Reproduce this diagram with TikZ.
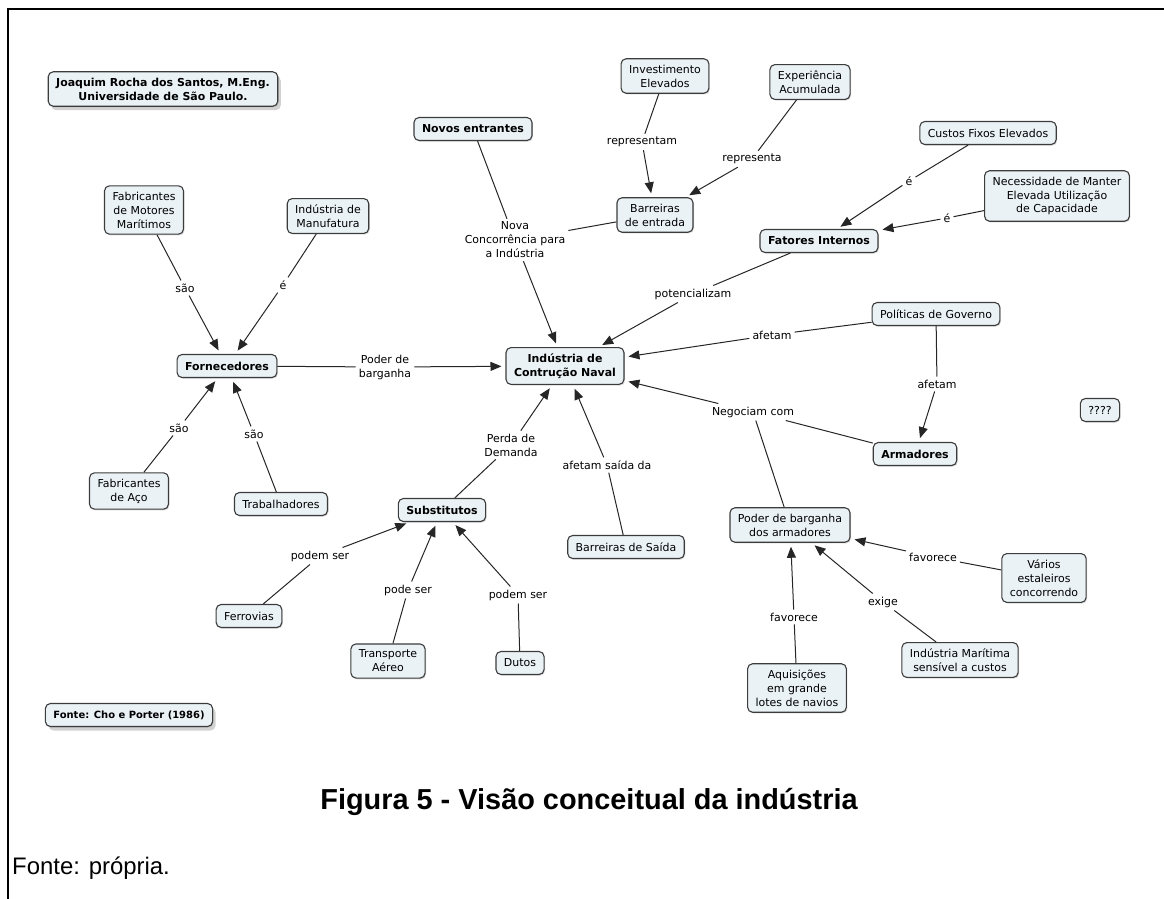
\documentclass[tikz,border=0pt]{standalone}
\usepackage{fontspec}
\usepackage{tikz}
\usetikzlibrary{arrows.meta,shadows}
\newfontfamily\mapfont{DejaVu Sans}
\newfontfamily\capfont{Liberation Sans}
\definecolor{cfill}{RGB}{234,242,246}
\definecolor{cline}{RGB}{60,60,60}
\tikzstyle{concept}=[draw=cline,fill=cfill,line width=1.1bp,rounded corners=5bp,align=center,
  inner xsep=8bp,inner ysep=6bp,minimum height=23bp,font=\mapfont\fontsize{11}{14}\selectfont,
  drop shadow={shadow xshift=1bp,shadow yshift=-1.2bp,fill=black!30}]
\tikzstyle{key}=[concept,font=\mapfont\bfseries\fontsize{11}{14}\selectfont]
\tikzstyle{note}=[key,drop shadow={shadow xshift=3bp,shadow yshift=-4bp,fill=black!35}]
\tikzstyle{link}=[align=center,inner sep=3bp,font=\mapfont\fontsize{11}{14}\selectfont]
\tikzstyle{line}=[draw=black!85,line width=1bp]
\tikzstyle{arr}=[line,-{Triangle[length=11bp,width=9bp]},shorten >=4bp]

\begin{document}
\begin{tikzpicture}[x=1bp,y=-1bp]
\useasboundingbox (0,0) rectangle (1164,899);
\draw[line width=2bp] (8,899) -- (8,9) -- (1164,9);

% concepts
\node[note] (author) at (163,89) {Joaquim Rocha dos Santos, M.Eng.\\Universidade de São Paulo.};
\node[note,font=\mapfont\bfseries\fontsize{10}{13}\selectfont] (fonte) at (129,715) {Fonte: Cho e Porter (1986)};
\node[concept] (motores) at (144,210) {Fabricantes\\de Motores\\Marítimos};
\node[concept] (manuf) at (328,216) {Indústria de\\Manufatura};
\node[key] (forn) at (227,366) {Fornecedores};
\node[concept] (aco) at (129,491) {Fabricantes\\de Aço};
\node[concept] (trab) at (281,504) {Trabalhadores};
\node[key] (novos) at (473,129) {Novos entrantes};
\node[concept] (invest) at (665,76) {Investimento\\Elevados};
\node[concept] (exper) at (810,82) {Experiência\\Acumulada};
\node[concept] (bent) at (655,215) {Barreiras\\de entrada};
\node[concept] (custos) at (988,133) {Custos Fixos Elevados};
\node[concept] (necess) at (1057,196) {Necessidade de Manter\\Elevada Utilização\\de Capacidade};
\node[key] (fatores) at (819,241) {Fatores Internos};
\node[key] (ind) at (565,366) {Indústria de\\Contrução Naval};
\node[concept] (polit) at (936,314) {Políticas de Governo};
\node[key] (arm) at (915,454) {Armadores};
\node[concept] (unk) at (1100,410) {????};
\node[concept] (pba) at (790,525) {Poder de barganha\\dos armadores};
\node[concept] (varios) at (1044,578) {Vários\\estaleiros\\concorrendo};
\node[concept] (aquis) at (797,688) {Aquisições\\em grande\\lotes de navios};
\node[concept] (imar) at (960,660) {Indústria Marítima\\sensível a custos};
\node[key] (subst) at (442,510) {Substitutos};
\node[concept] (bsai) at (626,547) {Barreiras de Saída};
\node[concept] (ferro) at (249,616) {Ferrovias};
\node[concept] (aereo) at (388,661) {Transporte\\Aéreo};
\node[concept] (dutos) at (520,663) {Dutos};

% linking phrases
\node[link] (s1) at (185,288) {são};
\node[link] (e1) at (283,285) {é};
\node[link] (s2) at (179,428) {são};
\node[link] (s3) at (254,434) {são};
\node[link] (pb) at (385,367) {Poder de\\barganha};
\node[link] (nc) at (515,240) {Nova\\Concorrência para\\a Indústria};
\node[link] (rep1) at (642,142) {representam};
\node[link] (rep2) at (752,159) {representa};
\node[link] (e2) at (909,181) {é};
\node[link] (e3) at (947,218) {é};
\node[link] (pot) at (693,294) {potencializam};
\node[link] (af1) at (772,335) {afetam};
\node[link] (af2) at (937,384) {afetam};
\node[link] (neg) at (753,412) {Negociam com};
\node[link] (pd) at (511,445) {Perda de\\Demanda};
\node[link] (asd) at (607,465) {afetam saída da};
\node[link] (fav1) at (933,557) {favorece};
\node[link] (ex) at (883,602) {exige};
\node[link] (fav2) at (794,617) {favorece};
\node[link] (ps1) at (320,556) {podem ser};
\node[link] (ps2) at (408,590) {pode ser};
\node[link] (ps3) at (518,595) {podem ser};

% connectors
\draw[line] (motores) -- (s1); \draw[arr] (s1) -- (forn);
\draw[line] (manuf) -- (e1); \draw[arr] (e1) -- (forn);
\draw[line] (aco) -- (s2); \draw[arr] (s2) -- (forn);
\draw[line] (trab) -- (s3); \draw[arr] (s3) -- (forn);
\draw[line] (forn) -- (pb); \draw[arr] (pb) -- (ind);
\draw[line] (novos) -- (nc); \draw[line] (bent) -- (nc); \draw[arr] (nc) -- (ind);
\draw[line] (invest) -- (rep1); \draw[arr] (rep1) -- (bent);
\draw[line] (exper) -- (rep2); \draw[arr] (rep2) -- (bent);
\draw[line] (custos) -- (e2); \draw[arr] (e2) -- (fatores);
\draw[line] (necess) -- (e3); \draw[arr] (e3) -- (fatores);
\draw[line] (fatores) -- (pot); \draw[arr] (pot) -- (ind);
\draw[line] (polit) -- (af1); \draw[arr] (af1) -- (ind);
\draw[line] (polit) -- (af2); \draw[arr] (af2) -- (arm);
\draw[line] (arm) -- (neg); \draw[line] (pba) -- (neg); \draw[arr] (neg) -- (ind);
\draw[line] (varios) -- (fav1); \draw[arr] (fav1) -- (pba);
\draw[line] (imar) -- (ex); \draw[arr] (ex) -- (pba);
\draw[line] (aquis) -- (fav2); \draw[arr] (fav2) -- (pba);
\draw[line] (subst) -- (pd); \draw[arr] (pd) -- (ind);
\draw[line] (bsai) -- (asd); \draw[arr] (asd) -- (ind);
\draw[line] (ferro) -- (ps1); \draw[arr] (ps1) -- (subst);
\draw[line] (aereo) -- (ps2); \draw[arr] (ps2) -- (subst);
\draw[line] (dutos) -- (ps3); \draw[arr] (ps3) -- (subst);

% caption
\node[font=\capfont\bfseries\fontsize{29}{33}\selectfont] (caption) at (589,802) {Figura 5 - Visão conceitual da indústria};
\node[anchor=west,inner sep=0pt,font=\capfont\fontsize{24}{28}\selectfont] (source) at (12,868) {Fonte: própria.};
\end{tikzpicture}
\end{document}
